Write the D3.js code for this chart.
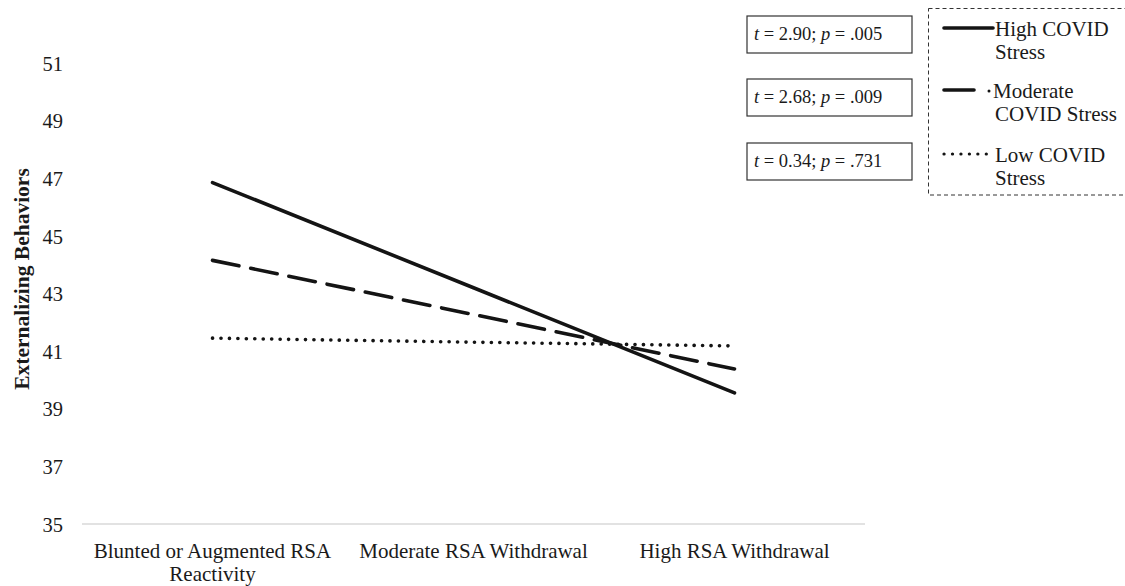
<!DOCTYPE html>
<html><head><meta charset="utf-8">
<script src="https://cdn.jsdelivr.net/npm/d3@7"></script>
<style>body{margin:0;background:#fff}svg{display:block}text{font-family:"Liberation Serif","Times New Roman",serif;fill:#1a1a1a}</style>
</head><body>
<svg id="c" width="1125" height="586"></svg>
<script>
const categories = ["Blunted or Augmented RSA Reactivity", "Moderate RSA Withdrawal", "High RSA Withdrawal"];
const highStress = [46.85, 43.2, 39.55];
const moderateStress = [44.15, 42.27, 40.38];
const lowStress = [41.45, 41.31, 41.18];
const yTicks = [35, 37, 39, 41, 43, 45, 47, 49, 51];
const seriesNames = ["High COVID Stress", "Moderate COVID Stress", "Low COVID Stress"];
const tests = ["t = 2.90; p = .005", "t = 2.68; p = .009", "t = 0.34; p = .731"];

const svg = d3.select("#c");
const x = d3.scalePoint().domain(categories).range([82, 865]).padding(0.5);
const y = d3.scaleLinear().domain([35, 51]).range([524, 63]);

// x axis
const xa = svg.append("g").attr("transform", "translate(0,524)")
  .call(d3.axisBottom(x).tickSize(0).tickFormat(""));
xa.select(".domain").attr("stroke", "#d9d9d9").attr("stroke-width", 1.3).attr("d", "M82,0H865");

const catLines = [["Blunted or Augmented RSA", "Reactivity"], ["Moderate RSA Withdrawal"], ["High RSA Withdrawal"]];
categories.forEach((c, i) => {
  const t = svg.append("text").attr("x", x(c)).attr("y", 558).attr("text-anchor", "middle").attr("font-size", 21);
  catLines[i].forEach((l, j) => t.append("tspan").attr("x", x(c)).attr("dy", j ? 22.5 : 0).text(l));
});

// y axis labels
const ya = svg.append("g").attr("transform", "translate(63,0)")
  .call(d3.axisLeft(y).tickValues(yTicks).tickSize(0).tickPadding(0));
ya.select(".domain").remove();
ya.selectAll("text").attr("font-size", 20.5).attr("font-family", "Liberation Serif").attr("fill", "#1a1a1a").attr("dy", "0.35em");

svg.append("text").attr("transform", "translate(29,279) rotate(-90)").attr("text-anchor", "middle")
  .attr("font-size", 21.5).attr("font-weight", "bold").text("Externalizing Behaviors");

const line = d3.line().x((d, i) => x(categories[i])).y(d => y(d));
const styles = [
  {data: highStress, dash: null, cap: "round"},
  {data: moderateStress, dash: "27,12", cap: "round"},
  {data: lowStress, dash: "0.1,8.35", cap: "round"}
];
styles.forEach(s => {
  svg.append("path").attr("d", line(s.data)).attr("fill", "none").attr("stroke", "#141414")
    .attr("stroke-width", 3.6)
    .attr("stroke-dasharray", s.dash).attr("stroke-linecap", s.cap);
});

// t-test boxes
const boxY = [16, 79, 143];
tests.forEach((t, i) => {
  svg.append("rect").attr("x", 747).attr("y", boxY[i]).attr("width", 165).attr("height", 37)
    .attr("fill", "#fff").attr("stroke", "#333").attr("stroke-width", 1.2);
  const parts = t.split(/(t|p)(?= =)/).filter(s => s.length);
  const tx = svg.append("text").attr("x", 754).attr("y", boxY[i] + 23.5).attr("font-size", 18.5);
  parts.forEach(p => tx.append("tspan").attr("font-style", (p === "t" || p === "p") ? "italic" : null).text(p));
});

// legend
svg.append("rect").attr("x", 928.5).attr("y", 8.5).attr("width", 200).attr("height", 186.5)
  .attr("fill", "none").attr("stroke", "#333").attr("stroke-width", 1).attr("stroke-dasharray", "4,3");
const legY = [28, 90, 154];
const legText = [["High COVID", "Stress"], ["Moderate", "COVID Stress"], ["Low COVID", "Stress"]];
styles.forEach((s, i) => {
  const g = svg.append("g");
  if (i === 1) {
    g.append("line").attr("x1", 944).attr("x2", 974).attr("y1", legY[i]).attr("y2", legY[i]).attr("stroke", "#141414").attr("stroke-width", 3.6).attr("stroke-linecap", "round");
    g.append("circle").attr("cx", 989).attr("cy", legY[i] + 1).attr("r", 1.5).attr("fill", "#141414");
  } else {
    g.append("line").attr("x1", 944).attr("x2", i === 0 ? 993 : 990).attr("y1", legY[i]).attr("y2", legY[i]).attr("stroke", "#141414").attr("stroke-width", i === 0 ? 3.6 : 3.2)
      .attr("stroke-dasharray", s.dash).attr("stroke-linecap", s.cap);
  }
  const t = g.append("text").attr("x", 995).attr("y", legY[i] + 8).attr("font-size", 21);
  legText[i].forEach((l, j) => t.append("tspan").attr("x", i === 1 && j === 0 ? 993 : 995).attr("dy", j ? 22.5 : 0).text(l));
});
</script>
</body></html>
